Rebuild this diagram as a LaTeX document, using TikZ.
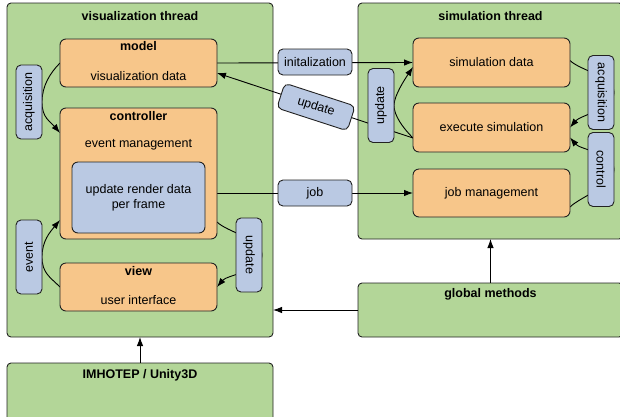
\documentclass[tikz,border=0pt]{standalone}
\usepackage{fontspec}
\setmainfont{Liberation Sans}
\usetikzlibrary{arrows.meta,calc}
\pgfdeclarelayer{back}
\pgfdeclarelayer{edges}
\pgfsetlayers{back,edges,main}
\definecolor{gfill}{HTML}{B3D698}
\definecolor{ofill}{HTML}{F7C68A}
\definecolor{bfill}{HTML}{BAC9E3}
\definecolor{bord}{HTML}{222222}
\begin{document}
\begin{tikzpicture}[x=1pt,y=-1pt,
  font=\fontsize{12.5}{15}\selectfont,
  container/.style={draw=bord, fill=gfill, rounded corners=4pt, line width=0.9pt, inner sep=0pt, outer sep=0pt},
  obox/.style={draw=bord, fill=ofill, rounded corners=6pt, line width=0.9pt, inner sep=0pt, outer sep=0pt},
  ibox/.style={draw=bord, fill=bfill, rounded corners=6pt, line width=0.9pt, inner sep=0pt, outer sep=0pt},
  blab/.style={draw=bord, fill=bfill, rounded corners=5pt, line width=0.9pt, inner sep=0pt, outer sep=0pt, minimum width=74pt, minimum height=26pt},
  arr/.style={-{Latex[length=9pt,width=6.5pt]}, line width=0.9pt},
  ln/.style={line width=0.9pt},
  title/.style={font=\fontsize{12.5}{15}\selectfont\bfseries, inner sep=0pt},
  txt/.style={inner sep=0pt}]
\clip (0,0) rectangle (620,416);
\useasboundingbox (0,0) rectangle (620,416);

% containers
\begin{pgfonlayer}{back}
\node[container, minimum width=266pt, minimum height=334pt] (vis) at (140,170) {};
\node[container, minimum width=265pt, minimum height=236pt] (sim) at (490.5,121) {};
\node[container, minimum width=265pt, minimum height=54pt] (glob) at (490.5,310) {};
\node[container, minimum width=266pt, minimum height=59pt] (imh) at (140,392.5) {};
\end{pgfonlayer}
\node[title] (vist) at (140,16) {visualization thread};
\node[title] (simt) at (490.5,16) {simulation thread};
\node[title] (globt) at (490.5,294) {global methods};
\node[title] (imht) at (140,375) {IMHOTEP / Unity3D};

% visualization thread boxes
\node[obox, minimum width=157pt, minimum height=48pt] (model) at (138.5,63) {};
\node[title] (modelt) at (138.5,46) {model};
\node[txt] (modelb) at (138.5,76) {visualization data};
\node[obox, minimum width=157pt, minimum height=131pt] (ctrl) at (138.5,173.5) {};
\node[title] (ctrlt) at (138.5,116) {controller};
\node[txt] (ctrlb) at (138.5,145) {event management};
\node[ibox, minimum width=133pt, minimum height=71pt, align=center] (inner) at (138.5,197.5) {update render data\\per frame};
\node[obox, minimum width=157pt, minimum height=48pt] (view) at (138.5,287) {};
\node[title] (viewt) at (138.5,271) {view};
\node[txt] (viewb) at (138.5,300) {user interface};

% simulation thread boxes
\node[obox, minimum width=157pt, minimum height=49pt] (simdata) at (491.5,62.5) {simulation data};
\node[obox, minimum width=157pt, minimum height=49pt] (exec) at (491.5,127.5) {execute simulation};
\node[obox, minimum width=157pt, minimum height=48pt] (jobm) at (491.5,193) {job management};

% labels
\node[blab, rotate=90] (acqL) at (29,102) {acquisition};
\node[blab, rotate=90] (eventL) at (29,257) {event};
\node[blab, rotate=-90] (updL) at (249,255) {update};
\node[blab, rotate=90] (updS) at (381,105.5) {update};
\node[blab, rotate=-90] (acqR) at (601,92.5) {acquisition};
\node[blab, rotate=-90] (ctrlR) at (601,169.5) {control};
\node[blab] (init) at (315,62) {initalization};
\node[blab] (job) at (315,193) {job};
\node[blab, rotate=-18] (updM) at (316,107) {update};

% edges
\begin{pgfonlayer}{edges}
\coordinate (ctrlA) at ($(ctrl.north west)+(0,25)$);
\coordinate (ctrlB) at ($(ctrl.south west)+(0,-19)$);
\coordinate (ctrlC) at ($(ctrl.south east)+(0,-17)$);
\coordinate (execA) at ($(exec.west)+(0,10.5)$);
\coordinate (modelA) at ($(model.east)+(0,10)$);
\coordinate (simA) at ($(simdata.west)+(0,4.5)$);
\coordinate (execB) at ($(exec.east)+(0,10)$);
\coordinate (jobA) at ($(jobm.east)+(0,14)$);
\coordinate (simB) at ($(simdata.east)+(0,-2)$);

\draw[arr] (model.east) -- (simdata.west);
\draw[arr] (execA) -- (modelA);
\draw[arr] (inner.east |- jobm.west) -- (jobm.west);

\draw[arr] (model.west) .. controls +(-10,10) and +(0,-16) .. (acqL.south) .. controls +(0,16) and +(-10,-12) .. (ctrlA);
\draw[arr] (view.west) .. controls +(-10,-10) and +(0,16) .. (eventL.south) .. controls +(0,-16) and +(-10,12) .. (ctrlB);
\draw[arr] (ctrlC) .. controls +(10,10) and +(0,-16) .. (updL.north) .. controls +(0,16) and +(10,-12) .. (view.east);
\draw[arr] (execA) .. controls +(-10,-10) and +(0,10) .. (updS.south) .. controls +(0,-10) and +(-8,12) .. (simA);
\draw[arr] (simB) .. controls +(10,10) and +(0,-16) .. (acqR.north) .. controls +(0,16) and +(10,-12) .. (exec.east);
\draw[arr] (jobA) .. controls +(10,-10) and +(0,16) .. (ctrlR.north) .. controls +(0,-16) and +(10,12) .. (execB);

\draw[arr] (glob.west) -- (vis.east |- glob.west);
\draw[arr] (glob.north) -- (sim.south);
\draw[arr] (imh.north) -- (vis.south);
\end{pgfonlayer}
\end{tikzpicture}
\end{document}
